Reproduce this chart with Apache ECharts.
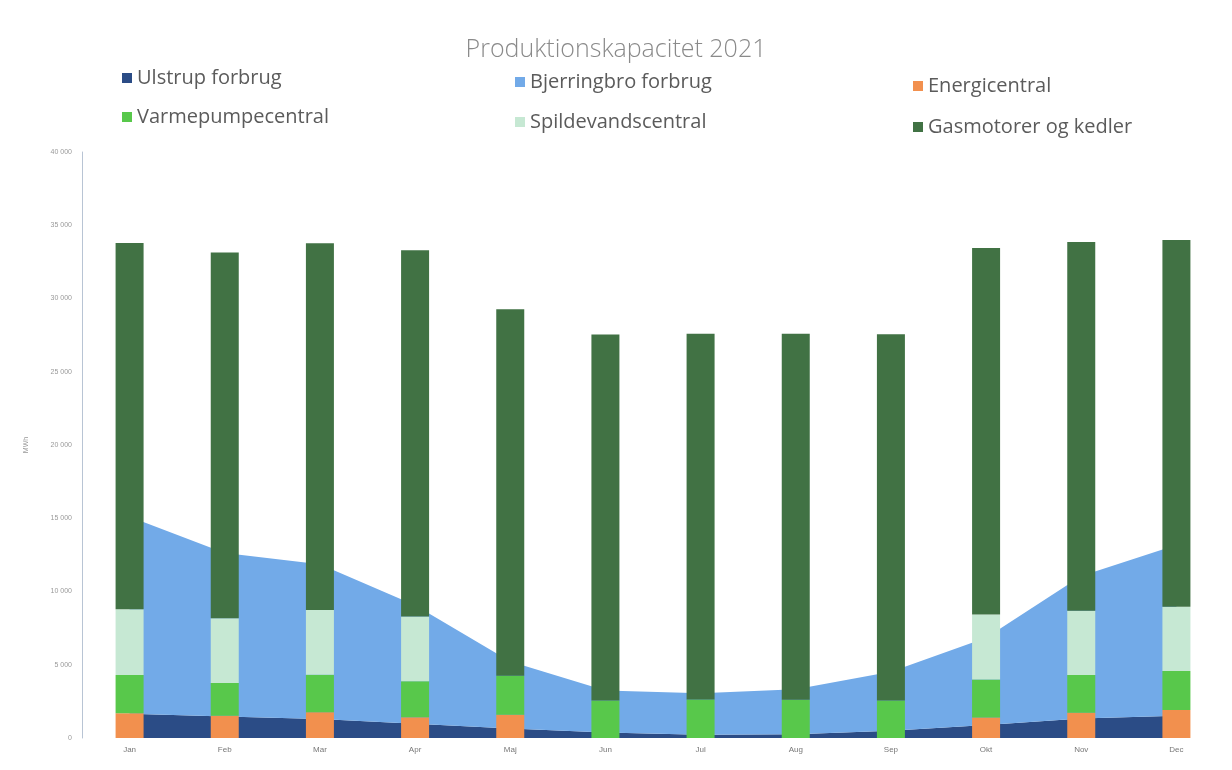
<!DOCTYPE html>
<html>
<head>
<meta charset="utf-8">
<script src="https://cdn.jsdelivr.net/npm/echarts@6/dist/echarts.min.js"></script>
<style>
html,body{margin:0;padding:0;background:#fff;}
#c{width:1232px;height:770px;}
</style>
</head>
<body>
<div id="c"></div>
<script>
const months = ['Jan','Feb','Mar','Apr','Maj','Jun','Jul','Aug','Sep','Okt','Nov','Dec'];
const ulstrup     = [1650, 1470, 1290, 970, 640, 375, 230, 250, 500, 880, 1330, 1520];
const bjerringbro = [13450, 11160, 10570, 8090, 4590, 2865, 2830, 3080, 4020, 5960, 9730, 11650];
const energi      = [1690, 1520, 1760, 1410, 1590, 0, 0, 0, 0, 1400, 1730, 1910];
const varmepumpe  = [2610, 2230, 2550, 2460, 2660, 2560, 2620, 2610, 2560, 2600, 2570, 2660];
const spildevand  = [4490, 4420, 4430, 4420, 0, 0, 0, 0, 0, 4430, 4390, 4390];
const gasmotorer  = [25000, 24970, 25030, 25000, 25010, 24980, 24980, 24990, 25000, 25020, 25170, 25040];
const yTicks = [0, 5000, 10000, 15000, 20000, 25000, 30000, 35000, 40000];

const names = ['Ulstrup forbrug','Bjerringbro forbrug','Energicentral','Varmepumpecentral','Spildevandscentral','Gasmotorer og kedler'];
const colors = ['#2b4c86','#72aae8','#f2904e','#58c84b','#c6e8d3','#417244'];

const legendPos = [
  {left:117, top:63}, {left:510, top:67}, {left:908, top:71},
  {left:117, top:102}, {left:510, top:107}, {left:908, top:112}
];
const legends = names.map((n,i)=>({
  data:[n], left:legendPos[i].left, top:legendPos[i].top,
  itemWidth:10, itemHeight:10, itemGap:8, icon:'rect',
  textStyle:{color:'#5b5b5b', fontSize:20, fontFamily:'Open Sans'}
}));

const chart = echarts.init(document.getElementById('c'));
chart.setOption({
  animation:false,
  backgroundColor:'#fff',
  title:{text:'Produktionskapacitet 2021', left:'center', top:32,
    textStyle:{color:'#8a8a8a', fontSize:25, fontWeight:300, fontFamily:'Open Sans'}},
  legend: legends,
  grid:{left:82, right:8, top:152, bottom:32, containLabel:false},
  xAxis:{type:'category', data:months, boundaryGap:true,
    axisLine:{show:false}, axisTick:{show:false},
    axisLabel:{color:'#777', fontSize:8, margin:8}},
  yAxis:{type:'value', min:0, max:40000, interval:5000,
    name:'MWh', nameLocation:'middle', nameGap:52, nameRotate:90,
    nameTextStyle:{color:'#999', fontSize:7},
    axisLine:{show:true, lineStyle:{color:'#b8c4d4', width:1}},
    axisTick:{show:false}, splitLine:{show:false},
    axisLabel:{color:'#999', fontSize:7, margin:10,
      formatter:v=>String(v).replace(/\B(?=(\d{3})+(?!\d))/g,' ')}},
  series:[
    {name:names[0], type:'line', stack:'area', data:ulstrup, symbol:'none',
     lineStyle:{width:0}, areaStyle:{color:colors[0], opacity:1}, itemStyle:{color:colors[0]}, z:1},
    {name:names[1], type:'line', stack:'area', data:bjerringbro, symbol:'none',
     lineStyle:{width:0}, areaStyle:{color:colors[1], opacity:1}, itemStyle:{color:colors[1]}, z:1},
    {name:names[2], type:'bar', stack:'bar', data:energi, barWidth:28, itemStyle:{color:colors[2]}, z:3},
    {name:names[3], type:'bar', stack:'bar', data:varmepumpe, barWidth:28, itemStyle:{color:colors[3]}, z:3},
    {name:names[4], type:'bar', stack:'bar', data:spildevand, barWidth:28, itemStyle:{color:colors[4]}, z:3},
    {name:names[5], type:'bar', stack:'bar', data:gasmotorer, barWidth:28, itemStyle:{color:colors[5]}, z:3}
  ]
});
</script>
</body>
</html>
